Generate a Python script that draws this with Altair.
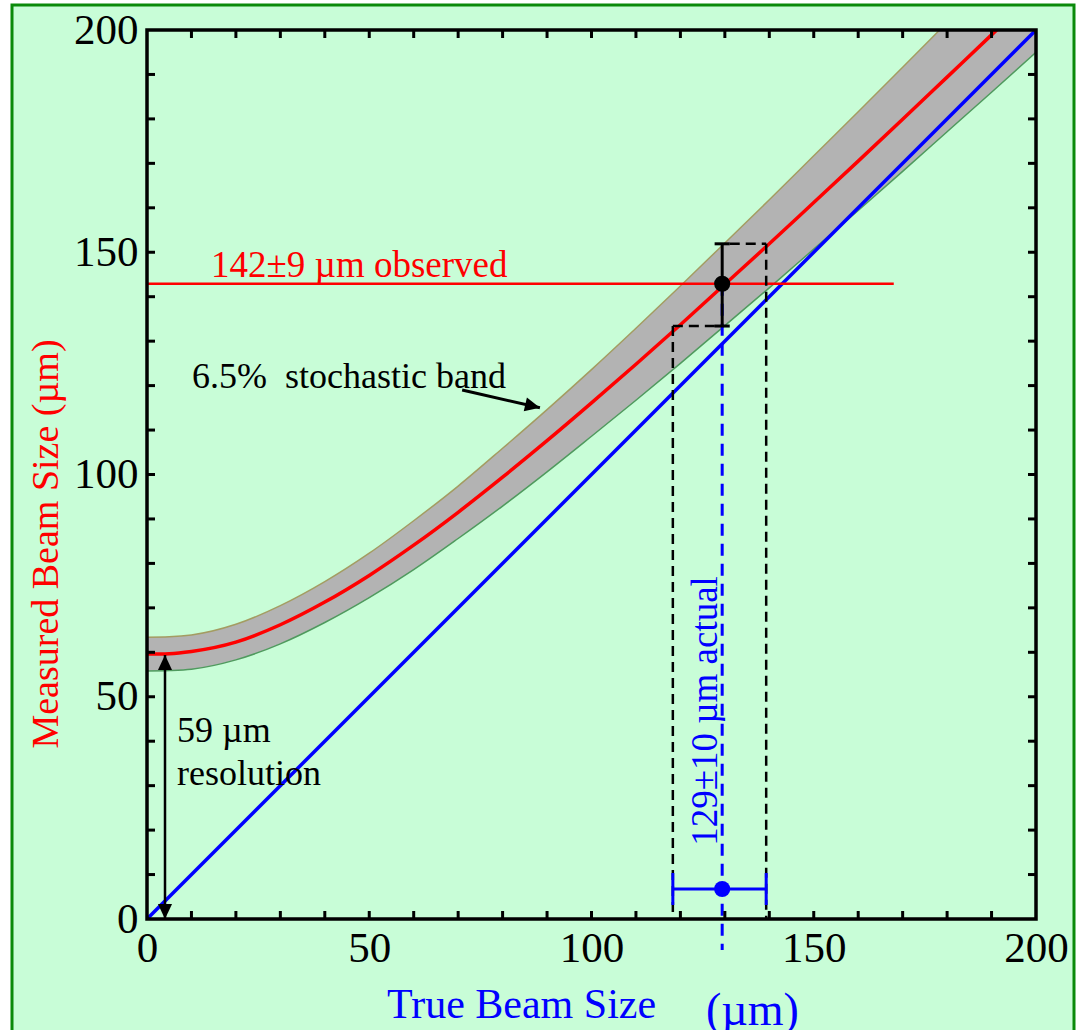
import altair as alt
import pandas as pd

# ---------------- data ----------------
true_size = [0, 5, 10, 20, 30, 40, 50, 60, 70, 80, 90, 100, 110, 120, 130,
             140, 150, 160, 170, 180, 190, 200]
measured = [59.6, 59.7, 60.2, 62.3, 66.2, 71.3, 77.3, 84.1, 91.5, 99.4, 107.6,
            116.1, 124.8, 133.7, 142.8, 151.9, 161.2, 170.5, 179.9, 189.4,
            198.9, 208.5]
band_upper = [63.4, 63.5, 63.9, 66.3, 70.5, 75.9, 82.3, 89.6, 97.4, 105.9,
              114.6, 123.6, 132.9, 142.4, 152.1, 161.8, 171.7, 181.6, 191.6,
              201.7, 211.8, 222.0]
band_lower = [55.8, 55.9, 56.2, 58.3, 61.9, 66.7, 72.3, 78.6, 85.6, 92.9,
              100.6, 108.6, 116.7, 125.0, 133.5, 142.0, 150.7, 159.4, 168.2,
              177.1, 186.0, 195.0]
ideal_x = [0, 200]
ideal_y = [0, 200]

observed_y = 142.9          # horizontal red line
observed_line_end = 168
obs_lo, obs_hi = 133.4, 151.9
actual_x = 129.4
act_lo, act_hi = 118.3, 139.3
actual_marker_y = 6.75
resolution = 59.4
resolution_x = 4.05
band_arrow_x = [70.9, 88.4]
band_arrow_y = [119.0, 115.0]

tick_minor = list(range(10, 200, 10))
tick_labels = [0, 50, 100, 150, 200]

txt_observed = "142\u00b19 \u00b5m observed"
txt_actual = "129\u00b110 \u00b5m actual"
txt_band = "6.5%\u00a0 stochastic band"
txt_res1 = "59 \u00b5m"
txt_res2 = "resolution"
txt_ytitle = "Measured Beam Size (\u00b5m)"
txt_xtitle = "True Beam Size"
txt_xunit = "(\u00b5m)"

# ---------------- helpers ----------------
W = H = 889
L, T = 147, 30
FONT = "Liberation Serif"
sx = alt.Scale(domain=[0, 200], nice=False)
sy = alt.Scale(domain=[0, 200], nice=False)
ax_x = alt.Axis(values=tick_labels, title=None, labelFlush=False, labelOverlap=False,
                labelPadding=8, zindex=2)
ax_y = alt.Axis(values=tick_labels, title=None, labelFlush=False, labelOverlap=False,
                labelPadding=9, zindex=2)


def X(field):
    return alt.X(field, type="quantitative", scale=sx, axis=ax_x)


def Y(field):
    return alt.Y(field, type="quantitative", scale=sy, axis=ax_y)


one = pd.DataFrame({"a": [0]})

curve = pd.DataFrame({"x": true_size, "m": measured, "up": band_upper, "lo": band_lower})
ideal = pd.DataFrame({"x": ideal_x, "y": ideal_y})

# background panel with green border
bg = alt.Chart(one).mark_rect(fill="#c8fdd7", stroke="#0a8a0a", strokeWidth=3).encode(
    x=alt.value(12 - L), x2=alt.value(1074 - L), y=alt.value(5 - T), y2=alt.value(1060 - T))

band = alt.Chart(curve).mark_area(color="#b3b3b3", clip=True, interpolate="monotone").encode(
    x=X("x"), y=Y("lo"), y2="up")
band_up = alt.Chart(curve).mark_line(color="#a49c62", strokeWidth=1.5, clip=True,
                                     interpolate="monotone").encode(x=X("x"), y=Y("up"))
band_lo = alt.Chart(curve).mark_line(color="#4f9a5e", strokeWidth=1.5, clip=True,
                                     interpolate="monotone").encode(x=X("x"), y=Y("lo"))
ideal_line = alt.Chart(ideal).mark_line(color="#0000ff", strokeWidth=3.5, clip=True).encode(
    x=X("x"), y=Y("y"))
red_curve = alt.Chart(curve).mark_line(color="#ff0000", strokeWidth=3.5, clip=True,
                                       interpolate="monotone").encode(x=X("x"), y=Y("m"))

obs_line = alt.Chart(pd.DataFrame({"x": [0], "x2": [observed_line_end], "y": [observed_y]})).mark_rule(
    color="#ff0000", strokeWidth=2.5).encode(x=X("x"), x2="x2", y=Y("y"))

# dashed black box lines
dash_df = pd.DataFrame({
    "x":  [actual_x + 1.7, act_hi, act_lo, act_lo],
    "x2": [act_hi, act_hi, actual_x, act_lo],
    "y":  [obs_hi, obs_hi, obs_lo, obs_lo],
    "y2": [obs_hi, 0, obs_lo, 0],
})
dashes = alt.Chart(dash_df).mark_rule(color="black", strokeWidth=2.5, strokeDash=[10, 6]).encode(
    x=X("x"), x2="x2", y=Y("y"), y2="y2")

blue_dash = alt.Chart(pd.DataFrame({"x": [actual_x], "y": [observed_y], "y2": [-7]})).mark_rule(
    color="#0000ff", strokeWidth=3, strokeDash=[12, 8]).encode(x=X("x"), y=Y("y"), y2="y2")

# black vertical error bar
ebar_df = pd.DataFrame({"x": [actual_x, actual_x - 1.7, actual_x - 1.7],
                        "x2": [actual_x, actual_x + 1.7, actual_x + 1.7],
                        "y": [obs_lo, obs_lo, obs_hi],
                        "y2": [obs_hi, obs_lo, obs_hi]})
ebar = alt.Chart(ebar_df).mark_rule(color="black", strokeWidth=3).encode(
    x=X("x"), x2="x2", y=Y("y"), y2="y2")
obs_pt = alt.Chart(pd.DataFrame({"x": [actual_x], "y": [observed_y]})).mark_circle(
    color="black", size=260, opacity=1).encode(x=X("x"), y=Y("y"))

# blue horizontal error bar
hb_df = pd.DataFrame({"x": [act_lo, act_lo, act_hi],
                      "x2": [act_hi, act_lo, act_hi],
                      "y": [actual_marker_y, actual_marker_y - 3.6, actual_marker_y - 3.6],
                      "y2": [actual_marker_y, actual_marker_y + 3.6, actual_marker_y + 3.6]})
hbar = alt.Chart(hb_df).mark_rule(color="#0000ff", strokeWidth=3).encode(
    x=X("x"), x2="x2", y=Y("y"), y2="y2")
act_pt = alt.Chart(pd.DataFrame({"x": [actual_x], "y": [actual_marker_y]})).mark_circle(
    color="#0000ff", size=260, opacity=1).encode(x=X("x"), y=Y("y"))

# resolution double arrow
ARROW = "M 0 0 L -1 -0.47 L -1 0.47 Z"
res_line = alt.Chart(pd.DataFrame({"x": [resolution_x], "y": [0], "y2": [resolution]})).mark_rule(
    color="black", strokeWidth=2.5).encode(x=X("x"), y=Y("y"), y2="y2")
res_heads = alt.Chart(pd.DataFrame({"x": [resolution_x, resolution_x], "y": [resolution, 0],
                                    "ang": [270, 90]})).mark_point(
    shape=ARROW, filled=True, color="black", opacity=1, size=900).encode(
    x=X("x"), y=Y("y"), angle=alt.Angle("ang:Q", scale=None))

# band arrow
ba_df = pd.DataFrame({"x": band_arrow_x, "y": band_arrow_y})
ba_line = alt.Chart(ba_df).mark_line(color="black", strokeWidth=3).encode(x=X("x"), y=Y("y"))
ba_head = alt.Chart(pd.DataFrame({"x": [band_arrow_x[1]], "y": [band_arrow_y[1]]})).mark_point(
    shape=ARROW, filled=True, color="black", opacity=1, size=900, angle=13).encode(
    x=X("x"), y=Y("y"))

# ticks (inward) on all four sides
tdf = pd.DataFrame({"v": tick_minor})
tk = dict(color="black", strokeWidth=3)
t_bottom = alt.Chart(tdf).mark_rule(**tk).encode(x=X("v"), y=alt.value(H), y2=alt.value(H - 8))
t_top = alt.Chart(tdf).mark_rule(**tk).encode(x=X("v"), y=alt.value(0), y2=alt.value(8))
t_left = alt.Chart(tdf).mark_rule(**tk).encode(y=Y("v"), x=alt.value(0), x2=alt.value(8))
t_right = alt.Chart(tdf).mark_rule(**tk).encode(y=Y("v"), x=alt.value(W), x2=alt.value(W - 8))

frame = alt.Chart(one).mark_rect(filled=False, stroke="black", strokeWidth=3.5).encode(
    x=alt.value(0), x2=alt.value(W), y=alt.value(0), y2=alt.value(H))


def label(text, px, py, size=36, color="black", align="left", baseline="alphabetic", angle=0):
    return alt.Chart(one).mark_text(font=FONT, fontSize=size, color=color, align=align,
                                    baseline=baseline, angle=angle).encode(
        x=alt.value(px - L), y=alt.value(py - T), text=alt.value(text))


texts = [
    label(txt_observed, 211, 277, size=37, color="#ff0000"),
    label(txt_band, 192, 388),
    label(txt_res1, 177, 742),
    label(txt_res2, 177, 785),
    label(txt_actual, 717, 711, size=37, color="#0000ff", align="center", angle=270),
    label(txt_ytitle, 47, 544, size=38, color="#ff0000", align="center", baseline="middle", angle=270),
    label(txt_xtitle, 387, 1018, size=42, color="#0000ff"),
    label(txt_xunit, 706, 1025, size=46, color="#0000ff"),
]

chart = alt.layer(
    bg, band, band_up, band_lo, ideal_line, red_curve, obs_line, dashes, blue_dash,
    ebar, obs_pt, hbar, act_pt, res_line, res_heads, ba_line, ba_head,
    t_bottom, t_top, t_left, t_right, frame, *texts
).properties(
    width=W, height=H,
    autosize=alt.AutoSizeParams(type="none"),
    padding={"left": L, "top": T, "right": 1080 - L - W, "bottom": 1030 - T - H},
    background="white",
).configure_view(stroke=None).configure_axis(
    labelFont=FONT, labelFontSize=43, labelColor="black", tickSize=0, domain=False,
    grid=False
)

chart.save("out.html", embed_options={"renderer": "svg", "actions": False})
